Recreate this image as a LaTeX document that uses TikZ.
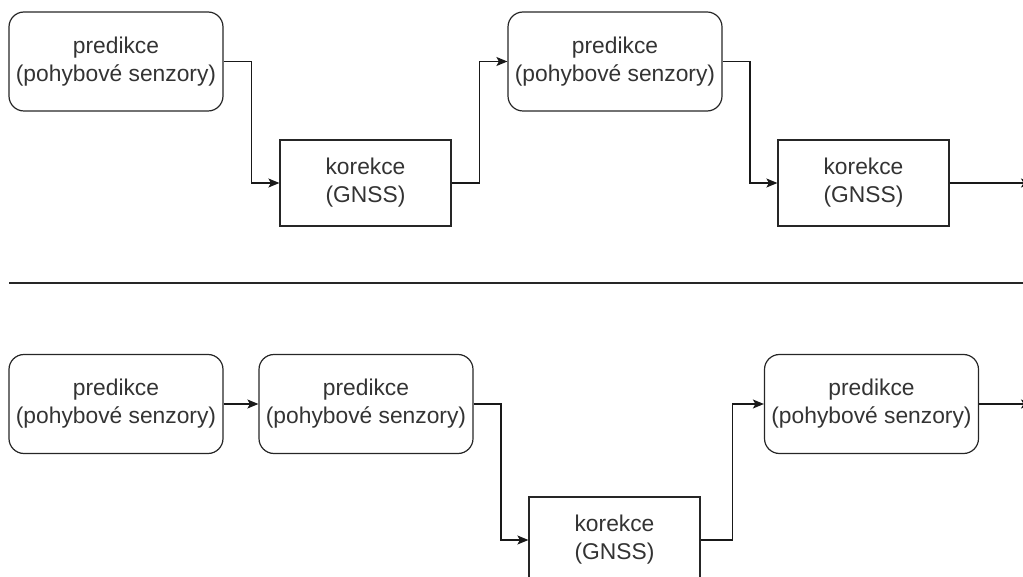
\documentclass[tikz,border=0pt]{standalone}
\usepackage{fontspec}
\setmainfont{Liberation Sans}
\usepackage{tikz}
\usetikzlibrary{calc}
\usetikzlibrary{arrows.meta}

\begin{document}
\begin{tikzpicture}[x=1pt,y=-1pt,
		every node/.style={font=\fontsize{22.8}{28}\selectfont,text=black!80},
		pred/.style={draw=black!85,line width=1.2pt,rounded corners=15pt,
			minimum width=214pt,minimum height=99pt,inner sep=0pt,align=center},
		kor/.style={draw=black!85,line width=1.2pt,
			minimum width=171pt,minimum height=86pt,inner sep=0pt,align=center},
		conn/.style={draw=black!90,line width=1.2pt,-{Stealth[length=11pt,width=9pt,inset=2.5pt]}}]
		\useasboundingbox (0,0) rectangle (1023,577);
		\clip (0,0) rectangle (1023,577);
		% upper chain
		\node[pred] (p1) at (116,61.5) {predikce\\(pohybové senzory)};
		\node[kor]  (k1) at (365.5,183) {korekce\\(GNSS)};
		\node[pred] (p2) at (615,61.5) {predikce\\(pohybové senzory)};
		\node[kor]  (k2) at (863.5,183) {korekce\\(GNSS)};
		\coordinate (o1) at (1032,183);
		\draw[conn] (p1.east) -| ($(p1.east)!.5!(k1.west)$) |- (k1.west);
		\draw[conn] (k1.east) -| ($(k1.east)!.5!(p2.west)$) |- (p2.west);
		\draw[conn] (p2.east) -| ($(p2.east)!.5!(k2.west)$) |- (k2.west);
		\draw[conn] (k2.east) -- (o1);
		% separator
		\coordinate (s1) at (9,283);
		\coordinate (s2) at (1023,283);
		\draw[black!85,line width=1.2pt] (s1) -- (s2);
		% lower chain
		\node[pred] (p3) at (116,404) {predikce\\(pohybové senzory)};
		\node[pred] (p4) at (366,404) {predikce\\(pohybové senzory)};
		\node[kor]  (k3) at (614.5,540) {korekce\\(GNSS)};
		\node[pred] (p5) at (871.5,404) {predikce\\(pohybové senzory)};
		\coordinate (o2) at (1032,404);
		\draw[conn] (p3.east) -- (p4.west);
		\draw[conn] (p4.east) -| ($(p4.east)!.5!(k3.west)$) |- (k3.west);
		\draw[conn] (k3.east) -| ($(k3.east)!.5!(p5.west)$) |- (p5.west);
		\draw[conn] (p5.east) -- (o2);
	\end{tikzpicture}
\end{document}
